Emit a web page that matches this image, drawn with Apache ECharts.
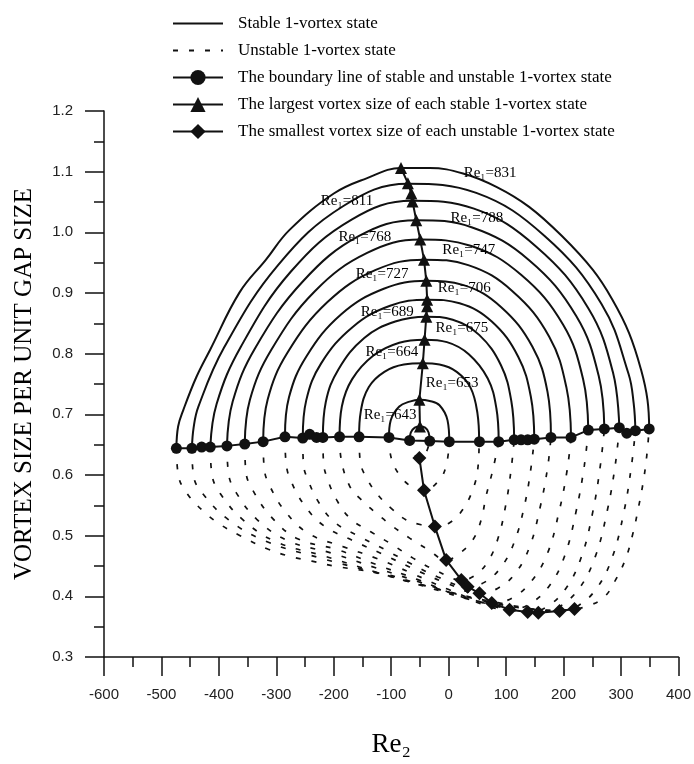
<!DOCTYPE html>
<html>
<head>
<meta charset="utf-8">
<script src="https://cdn.jsdelivr.net/npm/echarts@6/dist/echarts.min.js"></script>
<style>
    html, body { margin: 0; padding: 0; background: #fff; }
    #chart { width: 694px; height: 764px; }
</style>
</head>
<body>
<div id="chart"></div>
<script>
// 稳定单涡态曲线 (solid), outer to inner, Re1 values
const re1Values = ['831', '811', '788', '768', '747', '727', '706', '689', '675', '664', '653', '643']
const labelX = [72, -177, 49, -146, 35, -116, 27, -107, 23, -99, 6, -102]
const labelY = [1.098, 1.051, 1.023, 0.992, 0.971, 0.931, 0.908, 0.869, 0.842, 0.803, 0.751, 0.699]

const stableCurves = [
    [[-474, 0.644], [-471, 0.680], [-462, 0.707], [-439, 0.762], [-415, 0.807], [-364, 0.901], [-318, 0.955], [-277, 1.004], [-200, 1.064], [-143, 1.089], [-83, 1.106], [-33, 1.106], [25, 1.097], [83, 1.075], [140, 1.042], [198, 0.993], [251, 0.938], [285, 0.889], [314, 0.834], [335, 0.773], [346, 0.724], [349, 0.676]],
    [[-447, 0.644], [-444, 0.678], [-436, 0.712], [-391, 0.810], [-297, 0.946], [-184, 1.043], [-71, 1.080], [48, 1.065], [167, 0.994], [266, 0.882], [313, 0.767], [322, 0.718], [325, 0.673]],
    [[-415, 0.646], [-404, 0.717], [-362, 0.811], [-275, 0.935], [-169, 1.021], [-64, 1.052], [44, 1.039], [153, 0.976], [243, 0.875], [286, 0.769], [297, 0.678]],
    [[-386, 0.648], [-376, 0.721], [-337, 0.809], [-254, 0.919], [-156, 0.994], [-57, 1.020], [41, 1.008], [140, 0.954], [222, 0.862], [261, 0.764], [271, 0.676]],
    [[-355, 0.651], [-346, 0.724], [-309, 0.806], [-233, 0.903], [-142, 0.966], [-50, 0.988], [38, 0.978], [126, 0.930], [199, 0.848], [234, 0.758], [243, 0.674]],
    [[-323, 0.655], [-315, 0.725], [-281, 0.801], [-211, 0.885], [-127, 0.938], [-43, 0.955], [34, 0.946], [111, 0.903], [175, 0.828], [205, 0.744], [213, 0.662]],
    [[-285, 0.663], [-278, 0.728], [-248, 0.795], [-187, 0.865], [-113, 0.907], [-39, 0.920], [26, 0.913], [91, 0.877], [146, 0.811], [172, 0.737], [178, 0.662]],
    [[-254, 0.661], [-248, 0.723], [-222, 0.784], [-167, 0.844], [-102, 0.879], [-37, 0.889], [19, 0.883], [75, 0.853], [121, 0.795], [143, 0.729], [149, 0.659]],
    [[-219, 0.662], [-214, 0.720], [-192, 0.774], [-147, 0.826], [-93, 0.853], [-39, 0.861], [7, 0.856], [53, 0.831], [91, 0.781], [109, 0.722], [114, 0.658]],
    [[-190, 0.663], [-186, 0.713], [-168, 0.758], [-131, 0.797], [-86, 0.818], [-42, 0.823], [-3, 0.819], [35, 0.799], [68, 0.759], [83, 0.710], [87, 0.655]],
    [[-156, 0.663], [-153, 0.705], [-139, 0.745], [-112, 0.770], [-78, 0.782], [-45, 0.784], [-16, 0.782], [14, 0.770], [38, 0.744], [50, 0.702], [53, 0.655]],
    [[-104, 0.662], [-101, 0.690], [-86, 0.713], [-68, 0.721], [-51, 0.724], [-33, 0.722], [-16, 0.715], [-2, 0.690], [1, 0.655]],
    [[-68, 0.657], [-66, 0.670], [-59, 0.678], [-50, 0.680], [-41, 0.678], [-35, 0.670], [-33, 0.656]],
]

// 不稳定单涡态曲线 (dashed)
const unstableCurves = [
    [[-474, 0.644], [-470, 0.597], [-455, 0.569], [-429, 0.542], [-400, 0.520], [-363, 0.500], [-315, 0.478], [-273, 0.465], [-238, 0.458], [-200, 0.450], [-109, 0.436], [-50, 0.420], [8, 0.405], [67, 0.391], [126, 0.381], [185, 0.377], [219, 0.379], [245, 0.385], [271, 0.399], [291, 0.428], [308, 0.462], [321, 0.505], [330, 0.545], [338, 0.585], [344, 0.625], [349, 0.676]],
    [[-447, 0.644], [-444, 0.598], [-428, 0.569], [-383, 0.526], [-319, 0.491], [-223, 0.463], [-127, 0.439], [-31, 0.415], [78, 0.391], [193, 0.376], [226, 0.385], [259, 0.415], [285, 0.465], [305, 0.539], [318, 0.614], [325, 0.673]],
    [[-415, 0.646], [-412, 0.600], [-398, 0.570], [-358, 0.526], [-301, 0.490], [-215, 0.466], [-130, 0.441], [-44, 0.417], [53, 0.391], [156, 0.373], [191, 0.382], [227, 0.413], [255, 0.465], [276, 0.541], [290, 0.617], [297, 0.678]],
    [[-386, 0.648], [-383, 0.601], [-370, 0.571], [-334, 0.527], [-281, 0.492], [-203, 0.471], [-124, 0.446], [-46, 0.422], [43, 0.394], [137.5, 0.374], [171, 0.383], [204, 0.413], [231, 0.465], [251, 0.540], [264, 0.616], [271, 0.676]],
    [[-355, 0.651], [-353, 0.605], [-341, 0.575], [-309, 0.531], [-263, 0.495], [-194, 0.477], [-125, 0.452], [-55, 0.428], [23, 0.399], [106, 0.378], [140, 0.387], [175, 0.417], [202, 0.467], [222, 0.541], [236, 0.615], [243, 0.674]],
    [[-323, 0.655], [-321, 0.610], [-311, 0.581], [-283, 0.538], [-243, 0.503], [-184, 0.482], [-124, 0.462], [-64, 0.438], [3, 0.410], [75, 0.389], [110, 0.397], [144, 0.425], [172, 0.471], [192, 0.539], [206, 0.607], [213, 0.662]],
    [[-285, 0.663], [-283, 0.619], [-275, 0.591], [-251, 0.550], [-217, 0.516], [-167, 0.492], [-116, 0.470], [-65, 0.447], [-7, 0.423], [53.5, 0.405], [85, 0.413], [116, 0.438], [141, 0.482], [159, 0.546], [172, 0.611], [178, 0.662]],
    [[-254, 0.661], [-253, 0.619], [-245, 0.592], [-225, 0.553], [-197, 0.521], [-154, 0.498], [-111, 0.477], [-68, 0.455], [-19, 0.432], [33, 0.416], [62, 0.423], [91, 0.448], [114, 0.489], [132, 0.550], [143, 0.610], [149, 0.659]],
    [[-219, 0.662], [-218, 0.622], [-212, 0.596], [-195, 0.559], [-171, 0.528], [-135, 0.506], [-98, 0.485], [-62, 0.463], [-21, 0.442], [22, 0.427], [45, 0.434], [68, 0.457], [86, 0.496], [100, 0.554], [109, 0.612], [114, 0.658]],
    [[-190, 0.663], [-187, 0.625], [-172, 0.581], [-152, 0.559], [-126, 0.537], [-97, 0.515], [-68, 0.496], [-36, 0.477], [-4.5, 0.460], [19, 0.471], [42, 0.493], [56.5, 0.526], [65, 0.565], [77, 0.609], [87, 0.655]],
    [[-156, 0.663], [-154, 0.622], [-141, 0.592], [-123, 0.567], [-100, 0.545], [-74, 0.526], [-48, 0.518], [-24, 0.515], [1, 0.521], [24.5, 0.543], [42, 0.576], [50.5, 0.609], [53, 0.655]],
    [[-104, 0.662], [-100, 0.628], [-85.5, 0.600], [-65, 0.581], [-43, 0.575], [-16, 0.592], [-4, 0.617], [1, 0.655]],
    [[-68, 0.657], [-63, 0.638], [-51, 0.628], [-40, 0.636], [-33, 0.656]],
]

// 稳定/不稳定分界线 (circles)
const boundaryX = [-474, -447, -430, -415, -386, -355, -323, -285, -254, -242, -230, -219, -190, -156, -104, -68, -33, 1, 53.5, 87, 114, 126, 137.5, 149, 178, 213, 243, 271, 297, 310, 325, 349]
const boundaryY = [0.644, 0.644, 0.646, 0.646, 0.648, 0.651, 0.655, 0.663, 0.661, 0.667, 0.662, 0.662, 0.663, 0.663, 0.662, 0.657, 0.656, 0.655, 0.655, 0.655, 0.658, 0.658, 0.658, 0.659, 0.662, 0.662, 0.674, 0.676, 0.678, 0.669, 0.673, 0.676]

// 最大涡尺寸 (triangles)
const largestX = [-83, -71, -65, -63, -56.5, -49.5, -43, -39, -37.5, -37.5, -39, -42, -45, -51, -50]
const largestY = [1.106, 1.081, 1.064, 1.051, 1.020, 0.988, 0.955, 0.920, 0.889, 0.878, 0.861, 0.823, 0.784, 0.724, 0.680]

// 最小涡尺寸 (diamonds)
const smallestX = [-51, -43, -24, -4.5, 22, 33, 53.5, 75, 106, 137.5, 156, 193, 219]
const smallestY = [0.628, 0.575, 0.515, 0.460, 0.427, 0.416, 0.405, 0.389, 0.378, 0.374, 0.373, 0.376, 0.379]

const INK = '#111'
const SERIF = 'Liberation Serif'
const SANS = 'Liberation Sans'
const STABLE = 'Stable 1-vortex state'
const UNSTABLE = 'Unstable 1-vortex state'
const BOUNDARY = 'The boundary line of stable and unstable 1-vortex state'
const LARGEST = 'The largest vortex size of each stable 1-vortex state'
const SMALLEST = 'The smallest vortex size of each unstable 1-vortex state'

const zip = (xs, ys) => xs.map((x, i) => [x, ys[i]])

let series = []
stableCurves.forEach(pts => {
    series.push({
        name: STABLE,
        type: 'line',
        data: pts,
        smooth: 0.4,
        symbol: 'none',
        itemStyle: { color: INK },
        lineStyle: { color: INK, width: 2 },
        z: 2,
    })
})
unstableCurves.forEach(pts => {
    series.push({
        name: UNSTABLE,
        type: 'line',
        data: pts,
        smooth: 0.4,
        symbol: 'none',
        itemStyle: { color: INK },
        lineStyle: { color: INK, width: 1.7, type: [5, 11] },
        z: 2,
    })
})
series.push({
    name: BOUNDARY,
    type: 'line',
    data: zip(boundaryX, boundaryY),
    symbol: 'circle',
    symbolSize: 11,
    itemStyle: { color: INK },
    lineStyle: { color: INK, width: 2 },
    z: 4,
})
series.push({
    name: LARGEST,
    type: 'line',
    data: zip(largestX, largestY),
    symbol: 'triangle',
    symbolSize: 12,
    itemStyle: { color: INK },
    lineStyle: { color: INK, width: 2 },
    z: 4,
})
series.push({
    name: SMALLEST,
    type: 'line',
    data: zip(smallestX, smallestY),
    symbol: 'diamond',
    symbolSize: 14,
    itemStyle: { color: INK },
    lineStyle: { color: INK, width: 2 },
    z: 4,
})
series.push({
    name: 'labels',
    type: 'scatter',
    silent: true,
    symbolSize: 1,
    itemStyle: { color: 'rgba(255,255,255,0)' },
    data: re1Values.map((v, i) => ({ value: [labelX[i], labelY[i]], name: 'Re\u2081=' + v })),
    label: {
        show: true,
        position: 'inside',
        formatter: '{b}',
        fontFamily: SERIF,
        fontSize: 15,
        color: '#000',
        opacity: 1,
        textBorderWidth: 0,
    },
    labelLayout: { hideOverlap: false },
    z: 5,
})

const tickCommon = {
    axisLine: { show: true, onZero: false, lineStyle: { color: INK, width: 1.5 } },
    axisTick: { show: true, inside: false, length: 19, lineStyle: { color: INK, width: 1.5 } },
    minorTick: { show: true, splitNumber: 2, length: 10, lineStyle: { color: INK, width: 1.5 } },
    splitLine: { show: false },
    minorSplitLine: { show: false },
}

var option = {
    animation: false,
    backgroundColor: '#fff',
    grid: { left: 104, right: 15, top: 111, bottom: 107 },
    legend: {
        orient: 'vertical',
        left: 167,
        top: 10,
        itemWidth: 50,
        itemHeight: 19,
        itemGap: 10,
        selectedMode: false,
        textStyle: { fontFamily: SERIF, fontSize: 17, color: '#000', padding: [0, 0, 0, 10] },
        data: [
            { name: STABLE, itemStyle: { opacity: 0 } },
            { name: UNSTABLE, itemStyle: { opacity: 0 } },
            BOUNDARY,
            LARGEST,
            SMALLEST,
        ],
    },
    xAxis: Object.assign({
        type: 'value',
        min: -600,
        max: 400,
        interval: 100,
        name: 'Re\u2082',
        nameLocation: 'middle',
        nameGap: 74,
        nameTextStyle: { fontFamily: SERIF, fontSize: 27, color: '#000' },
        axisLabel: { margin: 30, fontFamily: SANS, fontSize: 15, color: '#222', showMinLabel: true, showMaxLabel: true },
    }, tickCommon),
    yAxis: Object.assign({
        type: 'value',
        min: 0.3,
        max: 1.2,
        interval: 0.1,
        name: 'VORTEX SIZE PER UNIT GAP SIZE',
        nameLocation: 'middle',
        nameGap: 67,
        nameTextStyle: { fontFamily: SERIF, fontSize: 25, color: '#000' },
        axisLabel: {
            margin: 31,
            fontFamily: SANS,
            fontSize: 15,
            color: '#222',
            showMinLabel: true,
            showMaxLabel: true,
            formatter: v => v.toFixed(1),
        },
    }, tickCommon),
    series: series,
}

var myChart = echarts.init(document.getElementById('chart'), null, { renderer: 'canvas' })
myChart.setOption(option)
</script>
</body>
</html>
